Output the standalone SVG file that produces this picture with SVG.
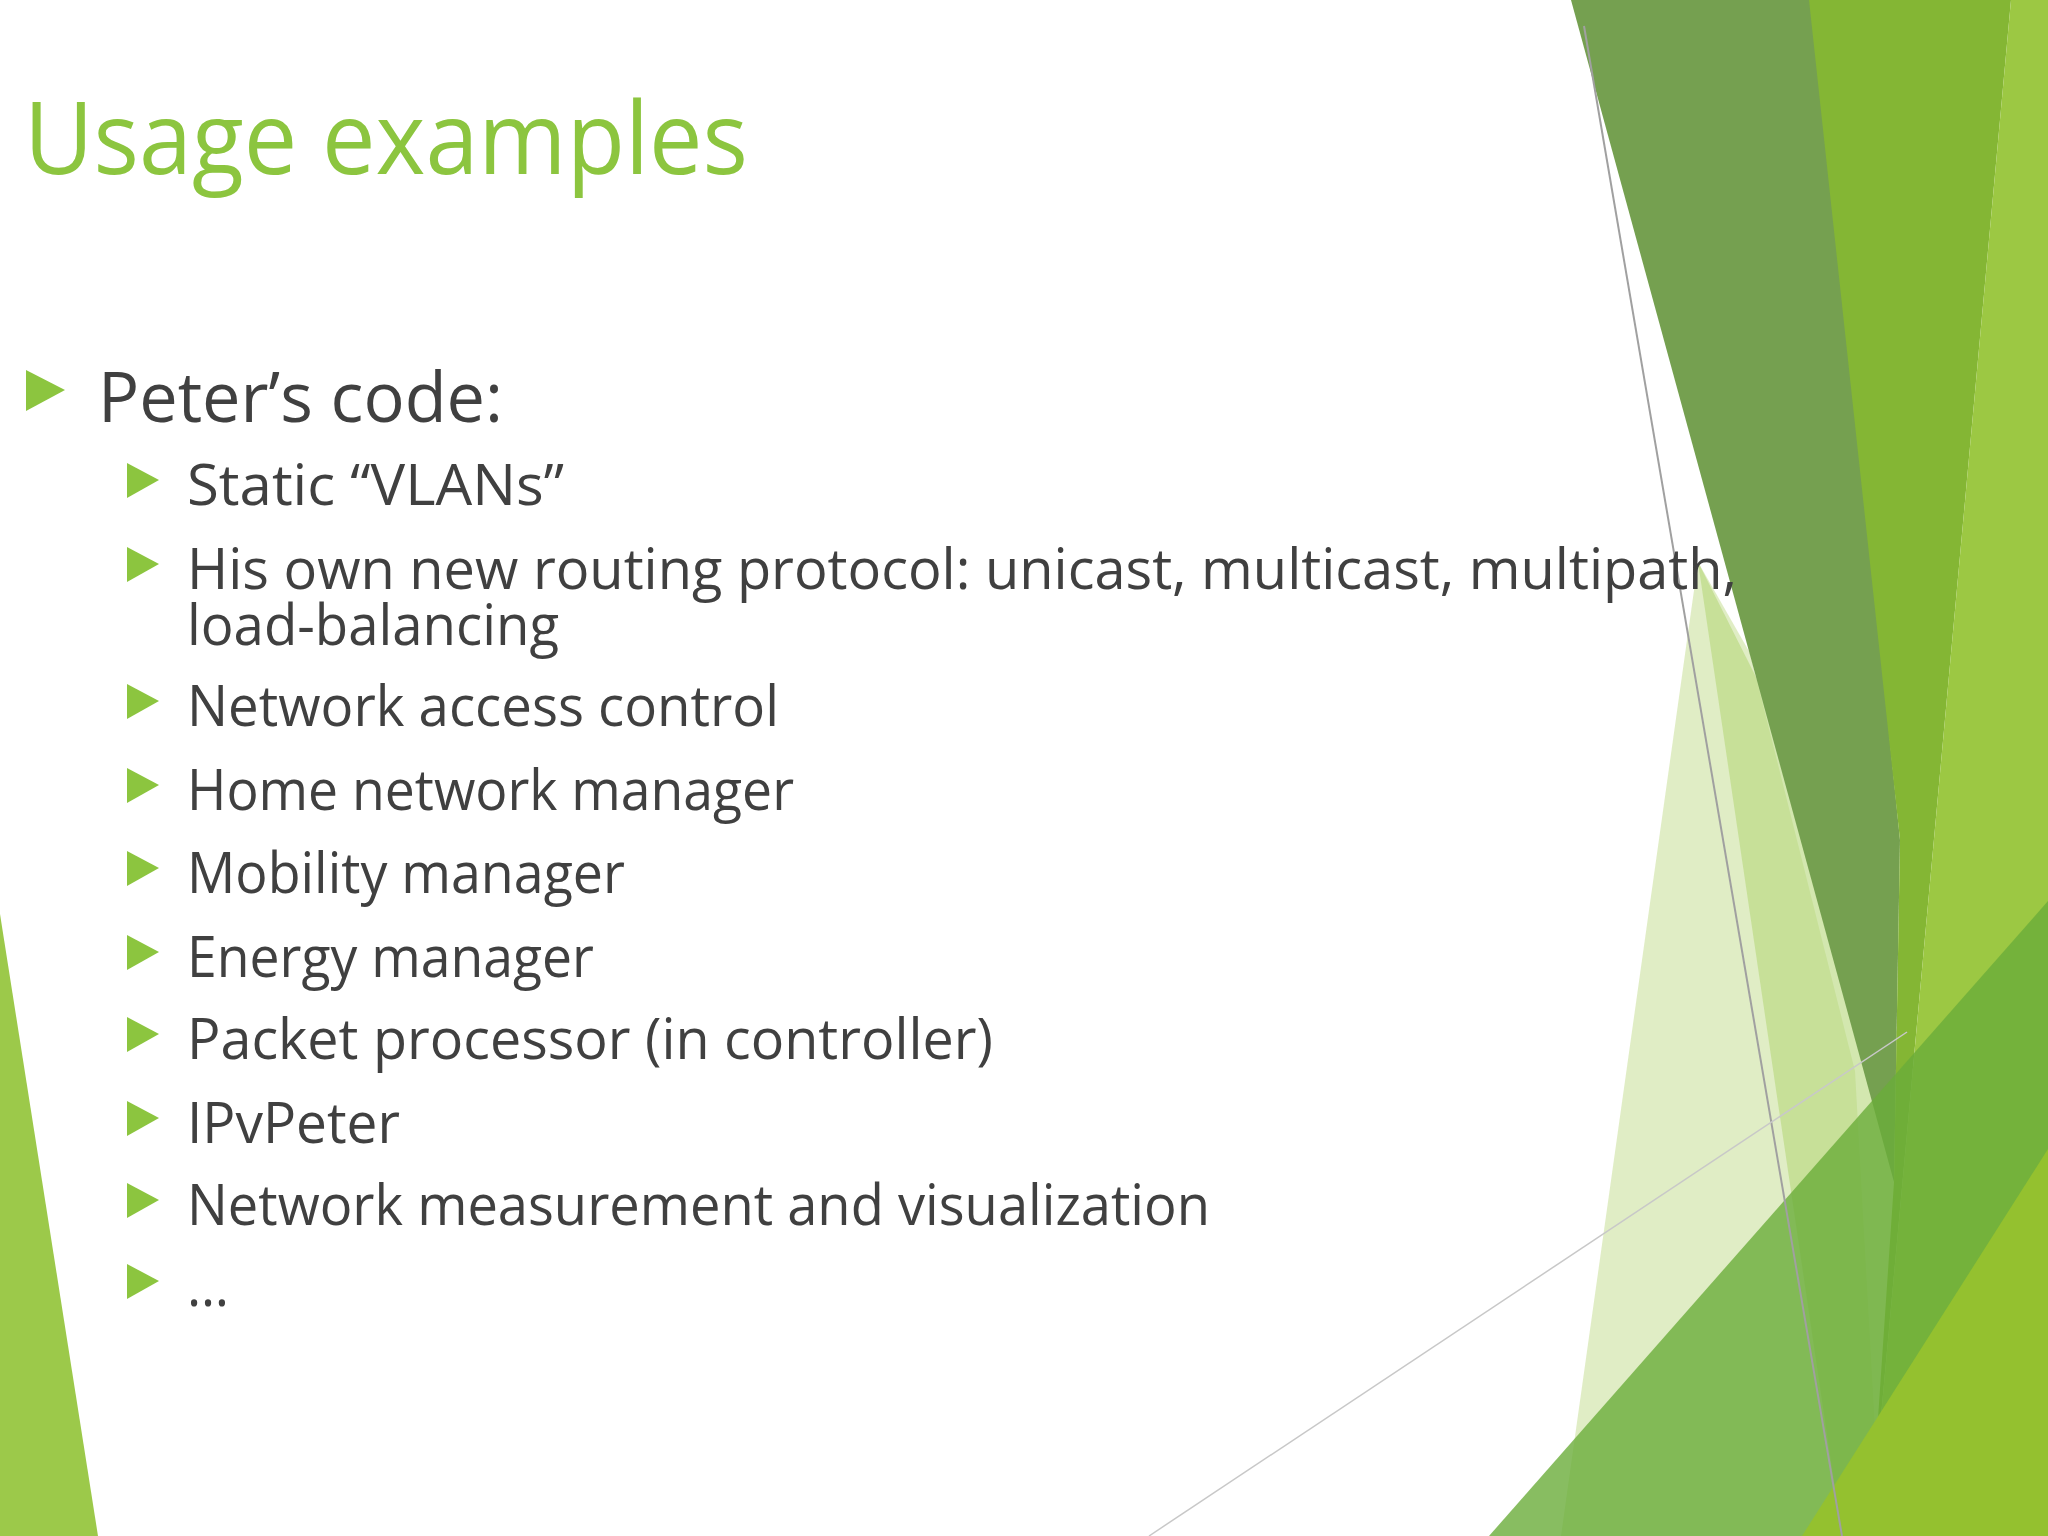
<svg xmlns="http://www.w3.org/2000/svg" width="2048" height="1536" viewBox="0 0 2048 1536">
<style>
.t{font-family:"Open Sans","DejaVu Sans",sans-serif;fill:#404040}
.l2{font-size:57px}
.b{fill:#8cc53f}
</style>
<rect width="2048" height="1536" fill="#ffffff"/>
<g id="decor">
<polygon points="0,914 0,1536 98,1536" fill="#9cc94a"/>
<polygon points="1698,562 1750,653 1855,1071 1881,1536 1561,1536" fill="#cfe3a6" opacity="0.65"/>
<polygon points="1698,562 1757,679 1975,1228 1933,1536 1842,1536" fill="#b5d77a" opacity="0.6"/>
<polygon points="1571,0 1815,0 1900,840 1894,1182" fill="#75a050"/>
<polygon points="1809,0 2011,0 1870,1536 1894,1182 1900,840" fill="#84b634"/>
<polygon points="2011,0 2048,0 2048,1536 1870,1536" fill="#9cc843"/>
<polygon points="1489,1536 2048,901 2048,1536" fill="#6aac3a" opacity="0.8"/>
<polygon points="1802,1536 2048,1149 2048,1536" fill="#94c12f"/>
<line x1="1584" y1="26" x2="1842" y2="1536" stroke="#a0a0a0" stroke-width="2"/>
<line x1="1149" y1="1536" x2="1907" y2="1032" stroke="#c8c8c8" stroke-width="1.5"/>
</g>
<g id="title"><text class="t" x="24" y="174" font-size="100" style="fill:#8cc53f" textLength="724" lengthAdjust="spacingAndGlyphs">Usage examples</text></g>
<g id="level1">
<polygon class="b" points="26,370 65,390 26,411"/>
<text class="t" x="98" y="422" font-size="69" textLength="405" lengthAdjust="spacingAndGlyphs">Peter’s code:</text>
</g>
<g id="items">
<polygon class="b" points="127,463 159,480 127,498"/><text class="t l2" x="187" y="505" textLength="377" lengthAdjust="spacingAndGlyphs">Static “VLANs”</text>
<polygon class="b" points="127,547 159,564 127,582"/><text class="t l2" x="187" y="589" textLength="1550" lengthAdjust="spacingAndGlyphs">His own new routing protocol: unicast, multicast, multipath,</text>
<text class="t l2" x="187" y="645" textLength="372" lengthAdjust="spacingAndGlyphs">load-balancing</text>
<polygon class="b" points="127,684 159,701 127,719"/><text class="t l2" x="187" y="726" textLength="592" lengthAdjust="spacingAndGlyphs">Network access control</text>
<polygon class="b" points="127,768 159,785 127,803"/><text class="t l2" x="187" y="810" textLength="607" lengthAdjust="spacingAndGlyphs">Home network manager</text>
<polygon class="b" points="127,851 159,868 127,886"/><text class="t l2" x="187" y="893" textLength="438" lengthAdjust="spacingAndGlyphs">Mobility manager</text>
<polygon class="b" points="127,935 159,952 127,970"/><text class="t l2" x="187" y="977" textLength="407" lengthAdjust="spacingAndGlyphs">Energy manager</text>
<polygon class="b" points="127,1017 159,1034 127,1052"/><text class="t l2" x="187" y="1059" textLength="806" lengthAdjust="spacingAndGlyphs">Packet processor (in controller)</text>
<polygon class="b" points="127,1101 159,1118 127,1136"/><text class="t l2" x="187" y="1143" textLength="213" lengthAdjust="spacingAndGlyphs">IPvPeter</text>
<polygon class="b" points="127,1183 159,1200 127,1218"/><text class="t l2" x="187" y="1225" textLength="1023" lengthAdjust="spacingAndGlyphs">Network measurement and visualization</text>
<polygon class="b" points="127,1264 159,1281 127,1299"/><text class="t l2" x="187" y="1306" textLength="42" lengthAdjust="spacingAndGlyphs">…</text>
</g>
</svg>
